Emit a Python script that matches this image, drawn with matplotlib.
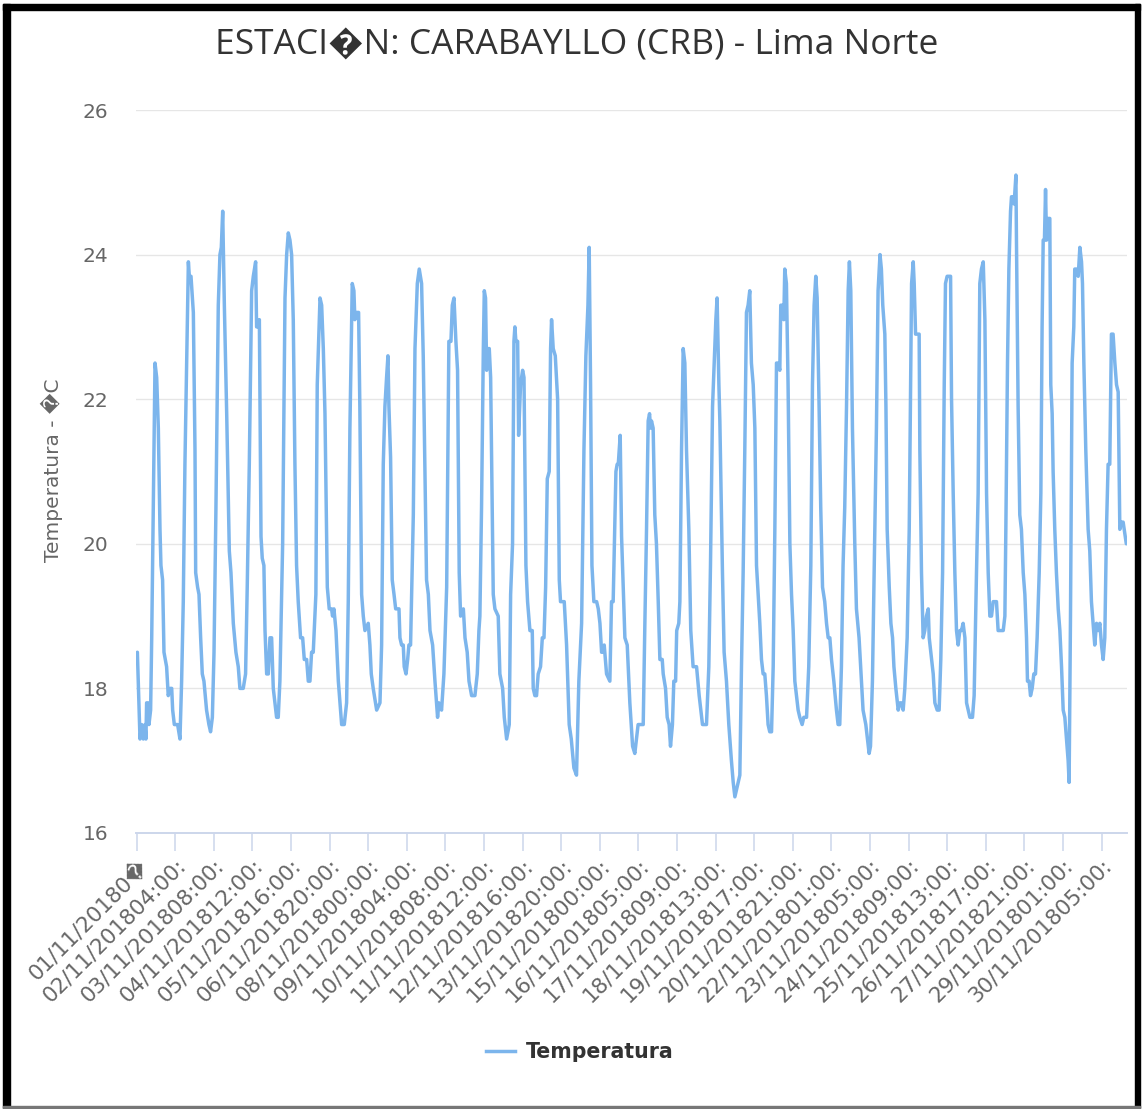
"""
Estacion Carabayllo (CRB) - Lima Norte
Hourly air temperature for November 2018, redrawn in the Highcharts look.
"""

import matplotlib
matplotlib.use("Agg")
import matplotlib.pyplot as plt
from matplotlib.patches import Rectangle
from matplotlib.lines import Line2D

# ---------------------------------------------------------------------------
# DATA
# ---------------------------------------------------------------------------

TITLE = "ESTACI\ufffdN: CARABAYLLO (CRB) - Lima Norte"
Y_LABEL = "Temperatura - \ufffdC"
SERIES_NAME = "Temperatura"

# hours since 01/11/2018 00:00 (category index) and temperature in degC
HOURS = [
    0.5, 2.4, 3.6, 4.8, 6.0, 6.7, 7.2, 8.4, 8.9, 10.1, 10.9, 13.3, 14.5, 15.7,
    16.9, 17.6, 18.8, 19.8, 21.7, 22.9, 24.2, 25.4, 26.1, 27.3, 29.7, 31.4,
    32.6, 33.8, 35.0, 37.5, 38.2, 39.4, 41.1, 42.3, 42.8, 44.2, 45.2, 46.4,
    47.6, 48.8, 50.7, 52.4, 53.6, 54.9, 56.1, 57.5, 59.2, 60.4, 61.4, 62.4,
    63.6, 65.3, 67.2, 68.4, 70.1, 72.0, 73.7, 74.9, 77.3, 79.0, 80.2, 81.7,
    83.4, 84.6, 86.3, 87.0, 88.2, 89.0, 90.2, 91.1, 92.3, 93.1, 94.3, 95.5,
    96.7, 97.9, 99.1, 101.5, 102.7, 103.9, 105.9, 107.6, 108.8, 110.0, 111.2,
    112.4, 113.6, 114.8, 116.0, 117.2, 118.9, 120.4, 121.6, 123.3, 124.5,
    125.7, 126.9, 128.1, 130.0, 131.0, 133.0, 134.2, 135.4, 136.6, 138.3,
    139.7, 141.4, 142.1, 143.1, 144.6, 146.3, 148.7, 150.6, 152.3, 153.5,
    154.7, 156.4, 157.6, 158.3, 159.5, 161.0, 161.9, 163.2, 164.4, 165.6,
    168.0, 169.2, 170.2, 171.6, 174.1, 176.5, 177.7, 178.9, 180.1, 181.3,
    182.3, 183.0, 184.2, 185.4, 186.7, 187.9, 190.3, 191.0, 192.2, 193.4,
    194.1, 195.4, 196.6, 197.5, 198.7, 200.7, 201.9, 203.6, 205.0, 206.7,
    207.9, 210.3, 211.6, 212.8, 214.7, 216.4, 218.3, 219.3, 221.2, 222.9,
    224.9, 226.5, 228.0, 229.0, 230.2, 231.6, 232.8, 234.0, 235.0, 237.0,
    238.2, 239.8, 241.1, 243.0, 245.4, 247.1, 248.3, 249.0, 250.2, 251.5,
    252.2, 253.1, 253.9, 254.6, 255.8, 256.8, 258.7, 259.9, 262.3, 263.5,
    265.5, 266.7, 268.4, 270.3, 271.3, 272.7, 273.7, 274.4, 275.1, 276.4,
    277.1, 278.5, 280.0, 281.0, 282.4, 283.6, 285.3, 287.0, 287.7, 288.9,
    290.1, 291.3, 293.0, 294.3, 295.5, 296.7, 297.9, 299.3, 300.3, 301.0,
    302.2, 303.7, 305.4, 306.6, 307.5, 310.2, 311.9, 313.8, 315.3, 317.2,
    319.1, 320.8, 322.8, 324.5, 325.9, 327.4, 328.3, 329.3, 330.3, 331.7,
    333.7, 334.9, 336.1, 337.3, 338.5, 339.2, 340.9, 343.3, 344.5, 345.7,
    347.7, 348.6, 349.4, 350.8, 351.8, 354.2, 355.9, 357.8, 359.8, 361.4,
    362.6, 363.8, 366.3, 367.5, 368.7, 369.9, 371.1, 372.1, 372.8, 373.5,
    374.7, 375.9, 377.1, 378.4, 379.6, 381.3, 382.0, 383.7, 384.9, 386.3,
    387.3, 388.7, 389.7, 391.0, 391.8, 393.3, 394.1, 395.3, 396.5, 397.7,
    398.9, 400.6, 402.0, 403.7, 405.0, 406.2, 408.1, 410.5, 413.4, 415.1,
    416.3, 417.8, 419.0, 420.2, 421.1, 422.4, 423.1, 425.0, 426.2, 427.9,
    429.6, 431.5, 432.8, 434.0, 435.2, 436.4, 437.6, 438.8, 440.0, 441.2,
    442.4, 443.6, 444.8, 446.0, 447.3, 448.5, 449.7, 450.9, 452.1, 453.3,
    454.5, 455.7, 456.9, 458.1, 459.3, 460.6, 461.8, 463.0, 464.2, 465.4,
    466.6, 467.3, 468.5, 469.5, 470.2, 471.4, 472.6, 473.9, 475.1, 476.3,
    477.5, 478.7, 479.9, 481.1, 482.8, 484.0, 486.0, 487.6, 489.1, 490.3,
    491.5, 492.7, 493.7, 495.1, 496.3, 497.6, 499.2, 500.5, 501.7, 502.9,
    504.1, 505.8, 507.7, 508.9, 510.1, 511.3, 512.5, 513.7, 515.0, 516.2,
    517.1, 518.1, 519.3, 521.0, 522.2, 524.1, 525.8, 527.0, 529.0, 530.2,
    531.4, 532.4, 533.8, 535.5, 536.7, 537.9, 539.3, 540.3, 541.3, 542.8,
    543.6, 544.5, 546.0, 547.2, 548.4, 549.4, 550.8, 552.5, 553.7, 554.9,
    556.1, 557.3, 559.0, 560.5, 562.2, 563.4, 564.1, 565.1, 566.3, 567.7,
    568.2, 569.4, 570.6, 571.8, 573.0, 574.3, 575.0, 576.7, 577.9, 579.1,
    580.8, 582.2, 583.4, 584.7, 585.9, 586.8, 588.0, 589.2, 590.5, 591.2,
    592.4, 593.6, 594.8, 596.0, 597.2, 598.4, 599.6, 600.9, 602.1, 603.3,
    604.5, 606.4, 607.6, 609.3, 610.5, 611.7, 612.9, 614.2, 615.4, 616.6,
    617.8, 619.0, 620.2, 621.4, 623.8, 625.0, 626.2, 628.7, 629.9, 630.6,
    631.8, 632.8, 634.0, 634.7, 635.9, 636.6, 637.9, 638.3, 639.5, 640.7,
    641.9, 643.2, 644.4, 645.6, 646.3, 647.5, 648.5, 649.7, 650.9, 652.1,
    653.3, 654.8, 656.0, 656.9, 657.7, 658.6, 659.4, 660.1, 661.3, 662.5,
    663.2, 664.2, 664.9, 666.1, 667.3, 668.6, 669.8, 671.0, 672.2, 673.4,
    674.6, 675.8, 676.5, 677.5, 678.7, 679.9, 680.6, 681.9, 683.1, 684.3,
    685.5, 686.2, 687.2, 688.6, 690.3, 691.5, 692.7, 693.9, 695.1, 696.4,
    697.6, 698.8, 700.0, 701.2, 702.4, 703.6, 704.8, 706.0, 707.2, 708.4,
    709.7, 710.9, 712.1, 713.3, 714.5, 715.7, 718.0,
]

TEMPS = [
    18.5, 17.3, 17.5, 17.3, 17.5, 17.3, 17.8, 17.8, 17.5, 17.7, 18.7, 22.5, 22.3, 21.6,
    20.2, 19.7, 19.5, 18.5, 18.3, 17.9, 18.0, 18.0, 17.7, 17.5, 17.5, 17.3,
    18.1, 19.2, 21.1, 23.9, 23.7, 23.7, 23.2, 21.3, 19.6, 19.4, 19.3, 18.7,
    18.2, 18.1, 17.7, 17.5, 17.4, 17.6, 18.5, 20.5, 23.3, 24.0, 24.1, 24.6,
    23.3, 21.8, 19.9, 19.6, 18.9, 18.5, 18.3, 18.0, 18.0, 18.2, 19.4, 21.1,
    23.5, 23.7, 23.9, 23.0, 23.0, 23.1, 20.1, 19.8, 19.7, 18.8, 18.2, 18.2,
    18.7, 18.7, 18.0, 17.6, 17.6, 18.1, 20.0, 23.4, 24.0, 24.3, 24.2,
    24.0, 23.1, 21.1, 19.7, 19.2, 18.7, 18.7, 18.4, 18.4, 18.1,
    18.1, 18.5, 18.5, 19.3, 22.2, 23.4, 23.3, 22.7, 21.8, 19.4,
    19.1, 19.1, 19.0, 19.1, 18.8, 18.1, 17.5, 17.5, 17.8, 19.2,
    21.6, 23.6, 23.5, 23.1, 23.2, 23.2, 21.9, 19.3, 19.0, 18.8,
    18.9, 18.6, 18.2, 18.0, 17.7, 17.8, 18.6, 21.1, 21.9, 22.3,
    22.6, 21.9, 21.2, 19.5, 19.3, 19.1, 19.1, 18.7, 18.6, 18.6,
    18.3, 18.2, 18.4, 18.6, 18.6, 20.4, 22.7, 23.6, 23.8, 23.6,
    22.6, 19.5, 19.3, 18.8, 18.6, 18.1, 17.6, 17.8, 17.7, 18.2,
    19.4, 22.8, 22.8, 23.3, 23.4, 22.8, 22.4, 19.6, 19.0, 19.1,
    18.7, 18.5, 18.1, 17.9, 17.9, 18.2, 18.8, 19.0, 20.5, 22.7,
    23.5, 23.4, 22.4, 22.7, 22.7, 22.3, 19.3, 19.1, 19.0, 18.2,
    18.0, 17.6, 17.3, 17.5, 19.3, 20.0, 22.8, 23.0, 22.8, 22.8,
    21.5, 22.2, 22.4, 22.3, 19.7, 19.2, 18.8, 18.8, 18.0, 17.9,
    17.9, 18.2, 18.3, 18.7, 18.7, 19.4, 20.9, 21.0, 22.7, 23.1,
    22.7, 22.6, 22.0, 19.5, 19.2, 19.2, 18.6, 17.5, 17.3, 16.9,
    16.8, 18.1, 18.9, 21.3, 22.6, 23.3, 24.1, 22.2, 19.7, 19.2,
    19.2, 19.1, 18.9, 18.5, 18.5, 18.6, 18.2, 18.1, 19.2, 19.2,
    21.0, 21.1, 21.1, 21.5, 20.1, 18.7, 18.6, 17.8, 17.2, 17.1,
    17.3, 17.5, 17.5, 17.5, 18.9, 20.2, 21.7, 21.8, 21.6, 21.7,
    21.6, 20.4, 20.0, 19.2, 18.4, 18.4, 18.2, 18.0, 17.6, 17.5,
    17.2, 17.5, 18.1, 18.1, 18.8, 18.9, 19.2, 21.3, 22.7, 22.5,
    21.3, 20.2, 18.8, 18.3, 18.3, 18.3, 17.9, 17.5, 17.5, 18.3,
    19.7, 21.9, 22.5, 23.1, 23.4, 22.2, 21.7, 19.6, 18.5, 18.1,
    17.5, 17.0, 16.7, 16.5, 16.6, 16.7, 16.8, 18.3, 19.6, 21.3,
    23.2, 23.3, 23.5, 22.5, 22.2, 21.6, 19.7, 19.3, 18.9, 18.4,
    18.2, 18.2, 17.9, 17.5, 17.4, 17.4, 18.3, 20.2, 22.5, 22.5,
    22.4, 23.3, 23.3, 23.1, 23.8, 23.6, 22.2, 20.0, 19.3, 18.8,
    18.1, 17.9, 17.7, 17.6, 17.5, 17.6, 17.6, 18.3, 19.7, 22.2,
    23.3, 23.7, 23.4, 21.9, 20.5, 19.4, 19.2, 18.9, 18.7, 18.7,
    18.4, 18.1, 17.7, 17.5, 17.5, 18.3, 19.7, 20.5, 21.9, 23.5,
    23.9, 23.5, 21.6, 20.0, 19.1, 18.7, 18.1, 17.7, 17.5, 17.3,
    17.1, 17.2, 18.1, 20.2, 21.6, 23.5, 24.0, 23.8, 23.3, 22.9,
    21.9, 20.2, 19.4, 18.9, 18.7, 18.3, 18.0, 17.7, 17.8, 17.8,
    17.7, 18.0, 18.7, 20.2, 23.6, 23.9, 23.6, 22.9, 22.9, 22.9,
    21.3, 19.6, 18.7, 18.8, 19.0, 19.1, 18.7, 18.4, 18.2, 17.8,
    17.7, 17.7, 18.4, 19.6, 22.2, 23.6, 23.7, 23.7, 23.7, 22.0,
    20.7, 19.6, 18.8, 18.6, 18.8, 18.8, 18.9, 18.7, 17.8, 17.7,
    17.6, 17.6, 17.9, 19.6, 20.7, 23.6, 23.8, 23.9, 23.1, 20.7,
    19.6, 19.0, 19.0, 19.2, 19.2, 18.8, 18.8, 18.8, 19.0, 20.2,
    22.5, 23.8, 24.6, 24.8, 24.8, 24.7, 25.1, 24.2, 21.9, 20.4,
    20.2, 19.6, 19.3, 18.7, 18.1, 18.1, 17.9, 18.0, 18.2, 18.2,
    18.7, 19.6, 20.7, 23.0, 24.2, 24.2, 24.9, 24.2, 24.5, 24.5,
    22.2, 21.8, 21.0, 20.2, 19.6, 19.1, 18.8, 18.3, 17.7, 17.6,
    17.3, 17.0, 16.7, 19.0, 22.5, 23.0, 23.8, 23.8, 23.7, 24.1,
    23.9, 23.6, 22.5, 21.3, 20.2, 19.9, 19.2, 18.9, 18.6, 18.9,
    18.8, 18.9, 18.6, 18.4, 18.7, 20.2, 21.1, 21.1, 22.9, 22.9,
    22.5, 22.2, 22.1, 20.2, 20.3, 20.3, 20.0,
]

# x-axis categories shown every 28 points (labels truncated as in the source)
TICK_INDEX = [
    0, 28, 56, 84, 112, 140, 168, 196, 224, 252, 280, 308, 336,
    364, 392, 420, 448, 476, 504, 532, 560, 588, 616, 644, 672, 700,
]
TICK_LABELS = [
    "01/11/20180\ufffd", "02/11/201804:00:", "03/11/201808:00:",
    "04/11/201812:00:", "05/11/201816:00:", "06/11/201820:00:",
    "08/11/201800:00:", "09/11/201804:00:", "10/11/201808:00:",
    "11/11/201812:00:", "12/11/201816:00:", "13/11/201820:00:",
    "15/11/201800:00:", "16/11/201805:00:", "17/11/201809:00:",
    "18/11/201813:00:", "19/11/201817:00:", "20/11/201821:00:",
    "22/11/201801:00:", "23/11/201805:00:", "24/11/201809:00:",
    "25/11/201813:00:", "26/11/201817:00:", "27/11/201821:00:",
    "29/11/201801:00:", "30/11/201805:00:",
]
N_POINTS = 719
Y_TICKS = [16, 18, 20, 22, 24, 26]

# ---------------------------------------------------------------------------
# STYLE
# ---------------------------------------------------------------------------

W, H = 1142, 1109
LINE_COLOR = "#7cb5ec"
GRID_COLOR = "#e6e6e6"
AXIS_COLOR = "#ccd6eb"
LABEL_COLOR = "#666666"
TITLE_COLOR = "#333333"


def px(x, y):
    """pixel position (from top-left) -> figure fraction"""
    return x / W, 1 - y / H


def main():
    fig = plt.figure(figsize=(W / 100, H / 100), dpi=100)
    left, top = px(136, 110)
    right, bottom = px(1127, 833)
    ax = fig.add_axes([left, bottom, right - left, top - bottom])

    ax.plot(HOURS, TEMPS, color=LINE_COLOR, linewidth=2.5,
            solid_joinstyle="round", solid_capstyle="round")

    ax.set_xlim(-0.5, N_POINTS - 0.5)
    ax.set_ylim(Y_TICKS[0], Y_TICKS[-1])

    # y axis: gridlines only
    ax.set_yticks(Y_TICKS)
    ax.set_yticklabels([str(v) for v in Y_TICKS])
    for v in Y_TICKS[1:]:
        ax.axhline(v, color=GRID_COLOR, linewidth=1.0, zorder=0)
    ax.tick_params(axis="y", length=0, pad=20, labelsize=14.5,
                   labelcolor=LABEL_COLOR)

    # x axis: category ticks with rotated labels
    ax.set_xticks(TICK_INDEX)
    ax.set_xticklabels(TICK_LABELS, rotation=45, ha="right", va="top",
                       rotation_mode="anchor")
    ax.tick_params(axis="x", length=13, width=1.1, color=AXIS_COLOR,
                   pad=3, labelsize=15.5, labelcolor=LABEL_COLOR)

    for side in ["top", "right", "left"]:
        ax.spines[side].set_visible(False)
    ax.spines["bottom"].set_color(AXIS_COLOR)
    ax.spines["bottom"].set_linewidth(1.4)

    # title and axis title
    tx, ty = px(577, 45)
    fig.text(tx, ty, TITLE, ha="center", va="center", fontsize=25.5,
             color=TITLE_COLOR, family=["Open Sans", "DejaVu Sans"])
    lx, ly = px(52, 470)
    fig.text(lx, ly, Y_LABEL, ha="center", va="center", rotation=90,
             fontsize=14.5, color=LABEL_COLOR)

    # legend under the axis labels
    handle = Line2D([], [], color=LINE_COLOR, linewidth=2.5)
    gx, gy = px(580, 1052)
    leg = fig.legend([handle], [SERIES_NAME], loc="center",
                     bbox_to_anchor=(gx, gy), frameon=False,
                     handlelength=1.4, handletextpad=0.55,
                     prop={"size": 14.8, "weight": "bold"})
    for t in leg.get_texts():
        t.set_color(TITLE_COLOR)

    # screenshot frame
    x0, y0 = px(3, 1108)
    x1, y1 = px(10, 4)
    fig.add_artist(Rectangle((x0, y0), x1 - x0, y1 - y0, color="black",
                             transform=fig.transFigure))
    x0, y0 = px(3, 10)
    x1, y1 = px(1140, 4)
    fig.add_artist(Rectangle((x0, y0), x1 - x0, y1 - y0, color="black",
                             transform=fig.transFigure))
    x0, y0 = px(1135, 1108)
    x1, y1 = px(1140, 4)
    fig.add_artist(Rectangle((x0, y0), x1 - x0, y1 - y0, color="black",
                             transform=fig.transFigure))
    x0, y0 = px(3, 1108)
    x1, y1 = px(1140, 1106)
    fig.add_artist(Rectangle((x0, y0), x1 - x0, y1 - y0, color="#777777",
                             transform=fig.transFigure))

    fig.savefig("out.png", dpi=100)


if __name__ == "__main__":
    main()
